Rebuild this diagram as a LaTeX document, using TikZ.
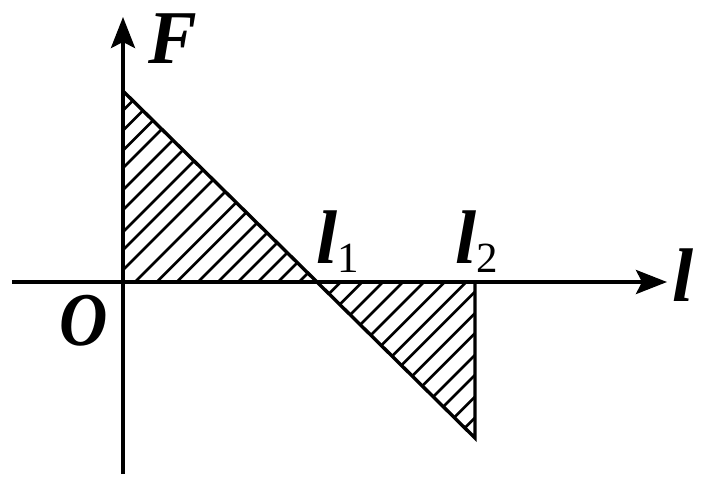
\documentclass[tikz,border=0pt]{standalone}
\usepackage{fontspec}
\setmainfont{Liberation Serif}
\usetikzlibrary{arrows.meta}
\tikzset{
  axisline/.style={line width=3.8pt,-{Stealth[length=31pt,width=24pt,inset=6pt]}},
  edgeline/.style={line width=3.4pt},
  hatchline/.style={line width=2.6pt},
  biglabel/.style={anchor=base west,inner sep=0pt,font=\fontsize{76}{76}\selectfont\bfseries\itshape},
}
\newcommand{\subdigit}[1]{\raisebox{-9pt}{\fontsize{43}{43}\selectfont\mdseries\upshape #1}}
\begin{document}
\begin{tikzpicture}[x=1pt,y=-1pt]
\useasboundingbox (0,0) rectangle (709,480);
\coordinate (O) at (123,282);
\coordinate (top) at (123,91);
\coordinate (A) at (317,282);
\coordinate (B) at (475,282);
\coordinate (C) at (475,438);
\begin{scope}
  \clip (O) -- (top) -- (A) -- cycle;
  \foreach \s in {233.5,253.5,273.5,291,313,333,355,373,393,417,438.7,458.7,480,500,520,540,560,581}
    \draw[hatchline] (\s-400,400) -- (\s,0);
\end{scope}
\begin{scope}
  \clip (A) -- (B) -- (C) -- cycle;
  \foreach \s in {622.7,644.3,665,685,706,726.7,748.3,766.7,788.3,808.3,830,850,871.7,892.7}
    \draw[hatchline] (\s-500,500) -- (\s,0);
\end{scope}
\draw[edgeline] (top) -- (A) -- (C) -- (B);
\coordinate (xs) at (12,282);
\coordinate (xe) at (667,282);
\coordinate (ys) at (123,474);
\coordinate (ye) at (123,17);
\draw[axisline] (xs) -- (xe);
\draw[axisline] (ys) -- (ye);
\node[biglabel] (lF) at (148,63) {\scalebox{0.96}[1]{F}};
\node[biglabel] (lO) at (59,345) {\scalebox{0.88}[1]{O}};
\node[biglabel] (lx) at (672,301) {l};
\node[biglabel] (l1) at (316,263) {l\subdigit{1}};
\node[biglabel] (l2) at (455,263) {l\subdigit{2}};
\end{tikzpicture}
\end{document}
